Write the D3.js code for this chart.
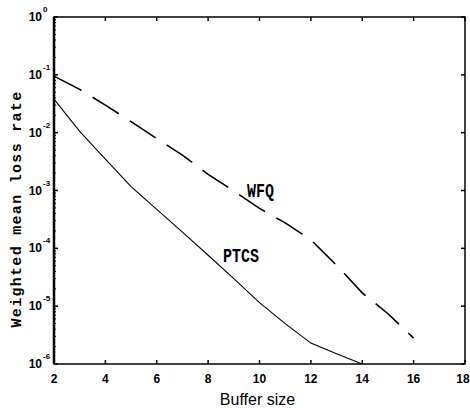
<!DOCTYPE html>
<html>
<head>
<meta charset="utf-8">
<script src="https://cdn.jsdelivr.net/npm/d3@7"></script>
<style>
  body { margin: 0; background: #fff; }
  svg { display: block; }
</style>
</head>
<body>
<script>
// buffer sizes
var buf = [2, 3, 4, 5, 6, 7, 8, 9, 10, 11, 12, 13, 14, 15, 16];
// weighted mean loss rate
var ptcs = [3.8e-2, 1.05e-2, 3.5e-3, 1.17e-3, 4.7e-4, 1.9e-4, 7.6e-5, 3.0e-5, 1.15e-5, 5.0e-6, 2.3e-6, 1.5e-6, 1.0e-6];
var wfq = [9.5e-2, 5.6e-2, 3.0e-2, 1.55e-2, 7.9e-3, 4.1e-3, 1.9e-3, 9.8e-4, 4.9e-4, 2.75e-4, 1.4e-4, 5.1e-5, 1.7e-5, 7.4e-6, 2.8e-6];
var xTicks = [2, 4, 6, 8, 10, 12, 14, 16, 18];
var yExp = [0, -1, -2, -3, -4, -5, -6];

var width = 470,
    height = 408;
var pL = 54, pR = 465, pT = 17, pB = 364;

var x = d3.scaleLinear().domain([2, 18]).range([pL, pR]);
var y = d3.scaleLog().domain([1e-6, 1]).range([pB, pT]);

var svg = d3.select("body").append("svg")
    .attr("width", width)
    .attr("height", height);

// minor ticks on left axis
var minor = [];
yExp.slice(1).forEach(function(e){
  for (var k = 2; k < 10; k++) minor.push(k * Math.pow(10, e));
});
svg.selectAll(".minor").data(minor).enter().append("line")
   .attr("x1", pL).attr("x2", pL + 2)
   .attr("y1", function(d){ return y(d); })
   .attr("y2", function(d){ return y(d); })
   .attr("stroke", "#000").attr("stroke-width", 1);

// major ticks, inward on all four sides
xTicks.forEach(function(t){
  svg.append("line").attr("x1", x(t)).attr("x2", x(t)).attr("y1", pB).attr("y2", pB - 4)
     .attr("stroke", "#000").attr("stroke-width", 1.5);
  svg.append("line").attr("x1", x(t)).attr("x2", x(t)).attr("y1", pT).attr("y2", pT + 4)
     .attr("stroke", "#000").attr("stroke-width", 1.5);
});
yExp.forEach(function(e){
  var v = Math.pow(10, e);
  svg.append("line").attr("x1", pL).attr("x2", pL + 4).attr("y1", y(v)).attr("y2", y(v))
     .attr("stroke", "#000").attr("stroke-width", 1.5);
  svg.append("line").attr("x1", pR).attr("x2", pR - 4).attr("y1", y(v)).attr("y2", y(v))
     .attr("stroke", "#000").attr("stroke-width", 1.5);
});

// frame
svg.append("rect")
   .attr("x", pL).attr("y", pT)
   .attr("width", pR - pL).attr("height", pB - pT)
   .attr("fill", "none").attr("stroke", "#000").attr("stroke-width", 1.5);
svg.append("line").attr("x1", pL).attr("x2", pL).attr("y1", pT).attr("y2", pB)
   .attr("stroke", "#000").attr("stroke-width", 2.5);

// x tick labels
svg.selectAll(".xl").data(xTicks).enter().append("text")
   .attr("x", function(d){ return Math.min(x(d), width - 7); })
   .attr("y", 383)
   .attr("text-anchor", "middle")
   .attr("font-family", "Liberation Sans, Arial, sans-serif")
   .attr("font-weight", "bold")
   .attr("font-size", 12)
   .text(function(d){ return d; });

// y tick labels 10^e
var yl = svg.selectAll(".yl").data(yExp).enter().append("g");
yl.append("text")
   .attr("x", 42)
   .attr("y", function(d){ return y(Math.pow(10, d)) + 4; })
   .attr("text-anchor", "end")
   .attr("font-family", "Liberation Sans, Arial, sans-serif")
   .attr("font-weight", "bold")
   .attr("font-size", 12)
   .text("10");
yl.append("text")
   .attr("x", 43)
   .attr("y", function(d){ return y(Math.pow(10, d)) - 5; })
   .attr("font-family", "Liberation Sans, Arial, sans-serif")
   .attr("font-weight", "bold")
   .attr("font-size", 8)
   .text(function(d){ return d; });

// series
var line = d3.line()
    .x(function(d){ return x(d[0]); })
    .y(function(d){ return y(d[1]); });

svg.append("path")
   .datum(ptcs.map(function(v, i){ return [buf[i], v]; }))
   .attr("d", line)
   .attr("fill", "none").attr("stroke", "#000").attr("stroke-width", 1.1);

svg.append("path")
   .datum(wfq.map(function(v, i){ return [buf[i], v]; }))
   .attr("d", line)
   .attr("fill", "none").attr("stroke", "#000").attr("stroke-width", 1.6)
   .attr("stroke-dasharray", "31,13");

// series labels
function label(txt, px, py){
  svg.append("text")
     .attr("transform", "translate(" + px + "," + py + ") scale(1,1.3)")
     .attr("font-family", "Liberation Mono, Courier New, monospace")
     .attr("font-weight", "bold")
     .attr("font-size", 15)
     .text(txt);
}
label("WFQ", 247, 197);
label("PTCS", 223, 262);

// axis titles
svg.append("text")
   .attr("x", (pL + pR) / 2 - 2)
   .attr("y", 405)
   .attr("text-anchor", "middle")
   .attr("font-family", "Liberation Sans, Arial, sans-serif")
   .attr("font-size", 16)
   .text("Buffer size");

svg.append("text")
   .attr("transform", "translate(21,209) rotate(-90)")
   .attr("text-anchor", "middle")
   .attr("font-family", "Liberation Mono, Courier New, monospace")
   .attr("font-size", 15)
   .attr("letter-spacing", 1.3)
   .attr("font-weight", "bold")
   .text("Weighted mean loss rate");
</script>
</body>
</html>
